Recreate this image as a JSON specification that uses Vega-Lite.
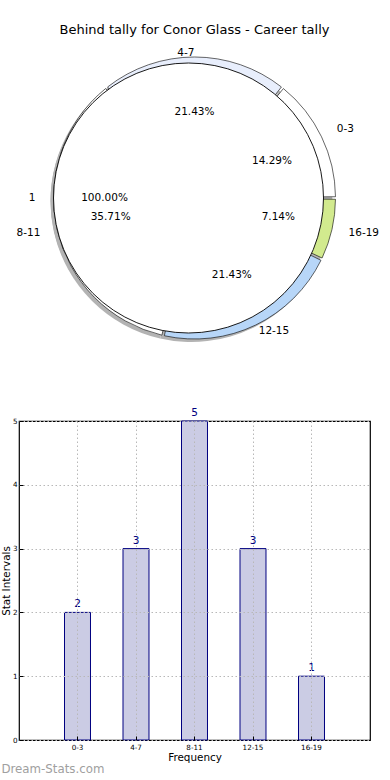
{
  "$schema": "https://vega.github.io/schema/vega-lite/v6.json",
  "padding": {"left": 0, "top": 24, "right": 0, "bottom": 0},
  "background": "white",
  "datasets": {
    "tally": [
      {"interval": "0-3", "count": 2, "pct": "14.29%"},
      {"interval": "4-7", "count": 3, "pct": "21.43%"},
      {"interval": "8-11", "count": 5, "pct": "35.71%"},
      {"interval": "12-15", "count": 3, "pct": "21.43%"},
      {"interval": "16-19", "count": 1, "pct": "7.14%"}
    ],
    "whole": [{"label": "1", "count": 1, "pct": "100.00%"}]
  },
  "bounds": "flush",
  "spacing": 83,
  "vconcat": [
    {
      "width": 351,
      "height": 280,
      "view": {"stroke": null},
      "title": {"text": "Behind tally for Conor Glass - Career tally", "fontSize": 13, "fontWeight": "normal", "font": "DejaVu Sans", "color": "black", "offset": -2, "frame": "group", "anchor": "middle"},
      "data": {"name": "tally"},
      "resolve": {"scale": {"theta": "independent"}},
      "layer": [
        {
          "mark": {"type": "arc", "outerRadius": 141, "fill": "#b3b3b3", "strokeWidth": 0, "xOffset": -3, "yOffset": 3},
          "encoding": {"theta": {"field": "count", "type": "quantitative", "stack": true, "scale": {"domain": [0, 14], "range": [1.5708, -4.7124]}}}
        },
        {
          "data": {"name": "whole"},
          "mark": {"type": "arc", "outerRadius": 135, "fill": "#b3b3b3", "strokeWidth": 0, "xOffset": -9, "yOffset": 3},
          "encoding": {"theta": {"field": "count", "type": "quantitative", "stack": true, "scale": {"domain": [0, 1], "range": [1.5708, -4.7124]}}}
        },
        {
          "transform": [{"stack": "count", "groupby": [], "as": ["t0", "t1"]}],
          "mark": {"type": "arc", "outerRadius": 141, "stroke": "black", "strokeWidth": 0.6, "padAngle": 0.018},
          "encoding": {
            "theta": {"field": "t0", "type": "quantitative", "scale": {"domain": [0, 14], "range": [1.5708, -4.7124]}},
            "theta2": {"field": "t1"},
            "color": {"field": "interval", "type": "nominal", "scale": {"domain": ["0-3", "4-7", "8-11", "12-15", "16-19"], "range": ["#ffffff", "#e8eefc", "#ffffff", "#b7d6f8", "#d2ea8e"]}, "legend": null}
          }
        },
        {
          "data": {"name": "whole"},
          "mark": {"type": "arc", "outerRadius": 135, "fill": "white", "stroke": "black", "strokeWidth": 0.9, "xOffset": -6},
          "encoding": {"theta": {"field": "count", "type": "quantitative", "stack": true, "scale": {"domain": [0, 1], "range": [1.5708, -4.7124]}}}
        },
        {
          "transform": [{"stack": "count", "groupby": [], "as": ["t0", "t1"]}],
          "mark": {"type": "text", "radius": 86, "font": "DejaVu Sans", "fontSize": 10.5, "color": "black", "align": "center", "baseline": "middle"},
          "encoding": {
            "theta": {"field": "count", "type": "quantitative", "stack": true, "scale": {"domain": [0, 14], "range": [1.5708, -4.7124]}},
            "order": {"field": "t0", "type": "quantitative", "sort": "ascending"},
            "text": {"field": "pct"}
          }
        },
        {
          "transform": [{"stack": "count", "groupby": [], "as": ["t0", "t1"]}],
          "mark": {"type": "text", "radius": 158, "font": "DejaVu Sans", "fontSize": 10.5, "color": "black", "align": "left", "baseline": "middle"},
          "encoding": {
            "theta": {"field": "count", "type": "quantitative", "stack": true, "scale": {"domain": [0, 14], "range": [1.5708, -4.7124]}},
            "order": {"field": "t0", "type": "quantitative", "sort": "ascending"},
            "text": {"condition": {"test": "datum.interval === '0-3' || datum.interval === '16-19'", "field": "interval"}, "value": ""}
          }
        },
        {
          "transform": [{"stack": "count", "groupby": [], "as": ["t0", "t1"]}],
          "mark": {"type": "text", "radius": 148, "font": "DejaVu Sans", "fontSize": 10.5, "color": "black", "align": "left", "baseline": "middle"},
          "encoding": {
            "theta": {"field": "count", "type": "quantitative", "stack": true, "scale": {"domain": [0, 14], "range": [1.5708, -4.7124]}},
            "order": {"field": "t0", "type": "quantitative", "sort": "ascending"},
            "text": {"condition": {"test": "datum.interval === '12-15'", "field": "interval"}, "value": ""}
          }
        },
        {
          "transform": [{"stack": "count", "groupby": [], "as": ["t0", "t1"]}],
          "mark": {"type": "text", "radius": 145, "font": "DejaVu Sans", "fontSize": 10.5, "color": "black", "align": "right", "baseline": "middle"},
          "encoding": {
            "theta": {"field": "count", "type": "quantitative", "stack": true, "scale": {"domain": [0, 14], "range": [1.5708, -4.7124]}},
            "order": {"field": "t0", "type": "quantitative", "sort": "ascending"},
            "text": {"condition": {"test": "datum.interval === '4-7'", "field": "interval"}, "value": ""}
          }
        },
        {
          "transform": [{"stack": "count", "groupby": [], "as": ["t0", "t1"]}],
          "mark": {"type": "text", "radius": 158, "font": "DejaVu Sans", "fontSize": 10.5, "color": "black", "align": "right", "baseline": "middle"},
          "encoding": {
            "theta": {"field": "count", "type": "quantitative", "stack": true, "scale": {"domain": [0, 14], "range": [1.5708, -4.7124]}},
            "order": {"field": "t0", "type": "quantitative", "sort": "ascending"},
            "text": {"condition": {"test": "datum.interval === '8-11'", "field": "interval"}, "value": ""}
          }
        },
        {
          "data": {"name": "whole"},
          "mark": {"type": "text", "radius": 153, "dx": -6, "font": "DejaVu Sans", "fontSize": 10.5, "color": "black", "align": "right", "baseline": "middle"},
          "encoding": {
            "theta": {"field": "count", "type": "quantitative", "stack": true, "scale": {"domain": [0, 1], "range": [1.5708, -4.7124]}},
            "text": {"field": "label"}
          }
        },
        {
          "data": {"name": "whole"},
          "mark": {"type": "text", "radius": 84, "dx": -6, "font": "DejaVu Sans", "fontSize": 10.5, "color": "black", "align": "center", "baseline": "middle"},
          "encoding": {
            "theta": {"field": "count", "type": "quantitative", "stack": true, "scale": {"domain": [0, 1], "range": [1.5708, -4.7124]}},
            "text": {"field": "pct"}
          }
        }
      ]
    },
    {
      "width": 351,
      "height": 319,
      "data": {"name": "tally"},
      "title": {"text": "Dream-Stats.com", "orient": "bottom", "anchor": "start", "frame": "bounds", "fontSize": 11.8, "fontWeight": "normal", "font": "DejaVu Sans", "color": "#a0a0a0", "offset": 1},
      "encoding": {
        "x": {
          "field": "interval", "type": "ordinal", "sort": null,
          "scale": {"paddingInner": 0.556, "paddingOuter": 0.778},
          "axis": {"title": "Frequency", "labelAngle": 0, "grid": true, "bandPosition": 0.5, "gridDash": [1.5, 2.5], "gridColor": "#b8b8b8", "gridWidth": 1, "domain": false, "tickSize": -4, "tickColor": "black", "labelPadding": 7, "labelFontSize": 7.2, "titleFontSize": 10.4, "titlePadding": 2, "zindex": 1}
        },
        "y": {
          "field": "count", "type": "quantitative",
          "scale": {"domain": [0, 5], "nice": false},
          "axis": {"title": "Stat Intervals", "values": [0, 1, 2, 3, 4, 5], "grid": true, "gridDash": [1.5, 2.5], "gridColor": "#b8b8b8", "gridWidth": 1, "domain": false, "tickSize": -4, "tickColor": "black", "labelPadding": 6, "labelFontSize": 7.2, "titleFontSize": 10.4, "titlePadding": 1, "zindex": 1}
        }
      },
      "layer": [
        {"mark": {"type": "bar", "fill": "#cbcce4", "stroke": "#000080", "strokeWidth": 1}},
        {"mark": {"type": "text", "baseline": "bottom", "dy": -3, "color": "#000080", "fontSize": 10.5, "font": "DejaVu Sans"}, "encoding": {"text": {"field": "count", "type": "quantitative"}}}
      ]
    }
  ],
  "config": {
    "font": "DejaVu Sans",
    "view": {"stroke": "black", "strokeWidth": 1.2},
    "axis": {"labelFont": "DejaVu Sans", "titleFont": "DejaVu Sans", "titleFontWeight": "normal", "labelColor": "black", "titleColor": "black"}
  }
}
